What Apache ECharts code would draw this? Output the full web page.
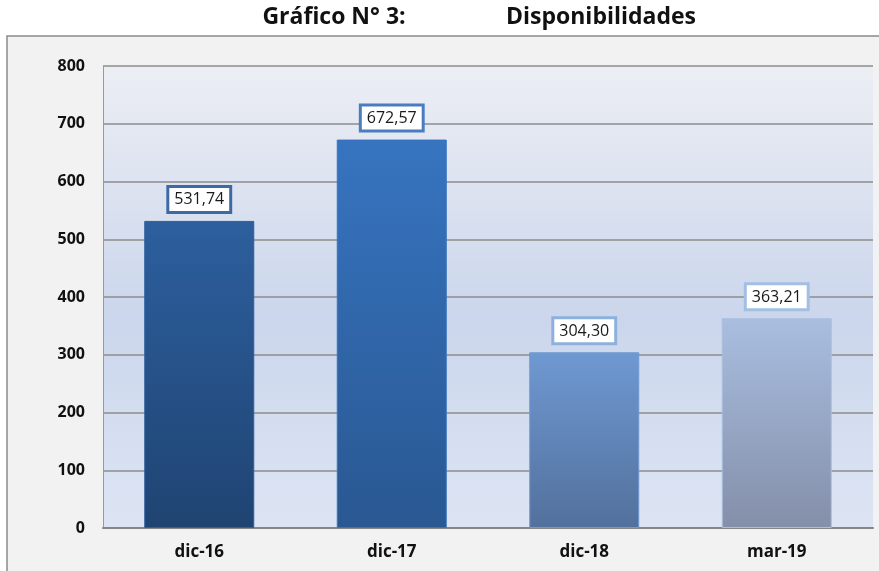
<!DOCTYPE html>
<html>
<head>
<meta charset="utf-8">
<script src="https://cdn.jsdelivr.net/npm/echarts@6/dist/echarts.min.js"></script>
<style>
  html, body { margin: 0; padding: 0; background: #fff; }
  #chart { width: 879px; height: 571px; }
</style>
</head>
<body>
<div id="chart"></div>
<script>
const categories = ['dic-16', 'dic-17', 'dic-18', 'mar-19'];
const values = [531.74, 672.57, 304.30, 363.21];
const yTicks = [0, 100, 200, 300, 400, 500, 600, 700, 800];
const titleParts = ['Gráfico N° 3:', 'Disponibilidades'];

// top / bottom of each bar gradient, and the label box border
const barTops = ['#2d5f9e', '#3774c0', '#6f99d2', '#a9bee0'];
const barBottoms = ['#1f4472', '#295892', '#52709c', '#848fa9'];
const boxBorders = ['#3d6aa5', '#4a7dc0', '#8db0dc', '#a3bfe2'];

const chart = echarts.init(document.getElementById('chart'));

function fmt(v) {
  return v.toFixed(2).replace('.', ',');
}

const barData = values.map((v, i) => ({
  value: v,
  itemStyle: {
    color: new echarts.graphic.LinearGradient(0, 0, 0, 1, [
      { offset: 0, color: barTops[i] },
      { offset: 1, color: barBottoms[i] }
    ]),
    borderColor: barTops[i],
    borderWidth: 1
  },
  label: { borderColor: boxBorders[i] }
}));

const titleStyle = {
  fontFamily: 'Open Sans',
  fontWeight: 'bold',
  fontSize: 23,
  color: '#111'
};

chart.setOption({
  backgroundColor: '#ffffff',
  animation: false,
  title: [
    { text: titleParts[0], left: 329, textAlign: 'center', top: 1, textStyle: titleStyle },
    { text: titleParts[1], left: 596, textAlign: 'center', top: 1, textStyle: titleStyle }
  ],
  graphic: [{
    type: 'rect',
    z: -10,
    shape: { x: 7, y: 36, width: 900, height: 560 },
    style: { fill: '#f2f2f2', stroke: '#8a8a8a', lineWidth: 1.5 }
  }],
  grid: {
    left: 103,
    right: 6,
    top: 66,
    bottom: 43,
    show: true,
    borderWidth: 0,
    backgroundColor: new echarts.graphic.LinearGradient(0, 0, 0, 1, [
      { offset: 0, color: '#eceef4' },
      { offset: 0.55, color: '#cbd6ec' },
      { offset: 1, color: '#dde5f4' }
    ])
  },
  xAxis: {
    type: 'category',
    data: categories,
    axisTick: { show: false },
    axisLine: { lineStyle: { color: '#868686', width: 2 } },
    axisLabel: {
      margin: 16,
      fontFamily: 'Open Sans',
      fontWeight: 'bold',
      fontSize: 17,
      color: '#111'
    }
  },
  yAxis: {
    type: 'value',
    min: yTicks[0],
    max: yTicks[yTicks.length - 1],
    interval: 100,
    axisLine: { show: true, lineStyle: { color: '#9a9a9a', width: 1 } },
    axisTick: { show: false },
    splitLine: { lineStyle: { color: '#8c8c8c', width: 1.5 } },
    axisLabel: {
      margin: 18,
      fontFamily: 'Open Sans',
      fontWeight: 'bold',
      fontSize: 16,
      color: '#111'
    }
  },
  series: [{
    type: 'bar',
    data: barData,
    barWidth: 110,
    label: {
      show: true,
      position: 'top',
      distance: 10,
      formatter: p => fmt(p.value),
      fontFamily: 'Open Sans',
      fontSize: 16,
      color: '#1a1a1a',
      backgroundColor: '#ffffff',
      borderWidth: 3,
      padding: [4, 5, 3, 5]
    }
  }]
});
</script>
</body>
</html>
